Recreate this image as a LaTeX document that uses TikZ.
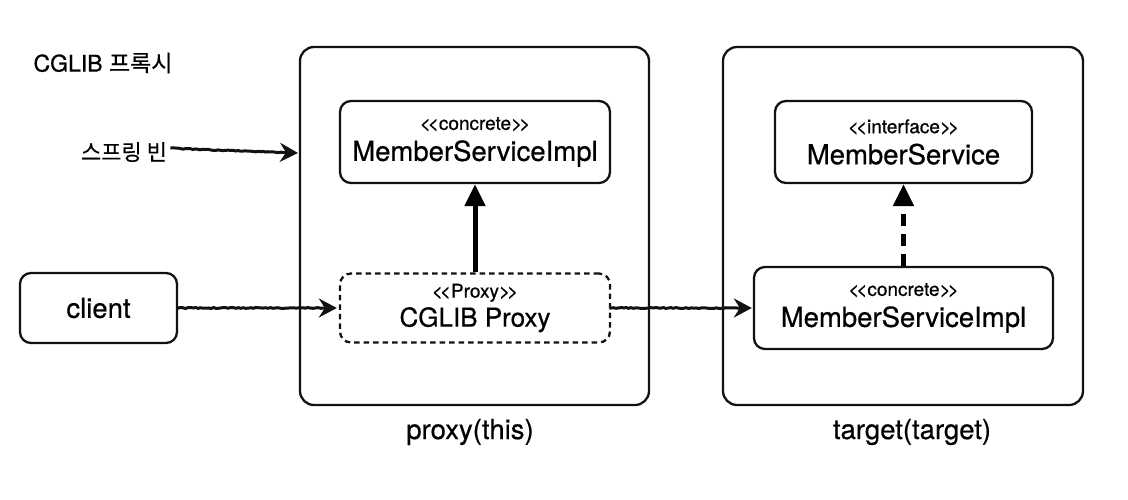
\documentclass[tikz,border=0pt]{standalone}
\usepackage{fontspec}
\setmainfont{TeX Gyre Heros}[FakeBold=0.6]
\newfontfamily\krfont{Noto Sans CJK KR}[FakeBold=0.4]
\usepackage{tikz}
\usetikzlibrary{arrows.meta, positioning, decorations.pathmorphing}
\usepackage{xcolor}
\definecolor{inkblack}{RGB}{18, 18, 18}
\newcommand{\stereo}[1]{{\fontsize{19}{21}\selectfont <\kern-3pt<#1>\kern-3pt>}}
\newcommand{\bigtext}{\fontsize{27.5}{31}\selectfont}

\tikzset{
  container/.style={draw=inkblack, line width=2.3pt, rounded corners=14pt},
  classbox/.style={draw=inkblack, line width=2.3pt, rounded corners=11pt,
                   align=center, font=\bigtext},
  proxybox/.style={classbox, dash pattern=on 5.5pt off 4pt},
  sketchy/.style={draw=inkblack, line width=3pt, decorate,
                  decoration={random steps, segment length=2.5pt,
                              amplitude=0.5pt, post length=16pt},
                  -{Stealth[length=18pt, width=19pt, inset=6pt]}},
  uplink/.style={draw=black, line width=5pt,
                 -{Triangle[length=22pt, width=20pt]}},
}

\begin{document}
\begin{tikzpicture}[x=1pt, y=-1pt]
  \useasboundingbox (0,0) rectangle (1128,499);

  %--- containers ---
  \node[container, minimum width=349pt, minimum height=358pt]
    (proxyarea) at (474.5,226) {};
  \node[container, minimum width=360pt, minimum height=358pt]
    (targetarea) at (903,226) {};
  \node[font=\bigtext] (proxylabel) at (470,432) {proxy(this)};
  \node[font=\bigtext] (targetlabel) at (912,432) {target(target)};

  %--- titles ---
  \node[font=\fontsize{23}{26}\selectfont] (title) at (103,63)
    {CGLIB {\krfont 프록시}};
  \node[font=\fontsize{22}{25}\selectfont\krfont] (springbean) at (124,152)
    {스프링 빈};

  %--- classes ---
  \node[classbox, minimum width=270pt, minimum height=82pt]
    (proxyimpl) at (475,142) {\stereo{concrete}\\MemberServiceImpl};
  \node[proxybox, minimum width=270pt, minimum height=69pt, font=\fontsize{26}{29}\selectfont]
    (cglib) at (475,308) {\stereo{Proxy}\\CGLIB Proxy};
  \node[classbox, minimum width=157pt, minimum height=70pt]
    (client) at (98.5,308) {client};
  \node[classbox, minimum width=257pt, minimum height=82pt]
    (iface) at (903.5,142) {\stereo{interface}\\MemberService};
  \node[classbox, minimum width=299pt, minimum height=82pt]
    (targetimpl) at (903.5,308) {\stereo{concrete}\\MemberServiceImpl};

  %--- calls ---
  \coordinate (beanin) at (298,153);
  \draw[sketchy] ([yshift=4pt]springbean.east) to[out=-3, in=178] (beanin);
  \draw[sketchy, shorten <=1pt, shorten >=2pt] (client) -- (cglib);
  \draw[sketchy, shorten <=1pt, shorten >=1pt] (cglib) -- (targetimpl);

  %--- inheritance ---
  \draw[uplink] (cglib) -- (proxyimpl);
  \draw[uplink, dash pattern=on 12pt off 8pt] (targetimpl) -- (iface);
\end{tikzpicture}
\end{document}
